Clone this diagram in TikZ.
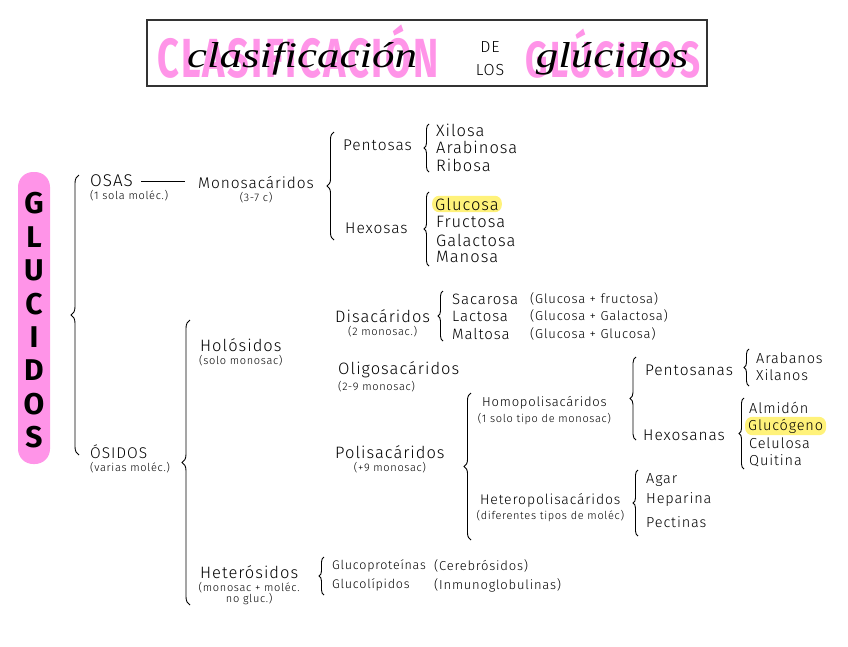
\documentclass[tikz,border=0pt]{standalone}
\usepackage{fontspec}
\setmainfont{Fira Sans}[UprightFont=* Light, BoldFont=* Bold, ItalicFont=* Light Italic, LetterSpace=6]
\newfontfamily\cursivafont{Liberation Serif}
\usetikzlibrary{positioning, decorations.pathreplacing}

\begin{document}
\begin{tikzpicture}[x=1pt, y=-1pt,
    texto/.style={font=\fontsize{15.5}{15.5}\selectfont, anchor=west, inner sep=1pt},
    grande/.style={font=\fontsize{16.5}{16.5}\selectfont},
    elemento/.style={font=\fontsize{14.5}{14.5}\selectfont, anchor=west, inner sep=1pt},
    parentesis/.style={font=\fontsize{13}{13}\selectfont, anchor=west, inner sep=1pt},
    nota/.style={font=\fontsize{11}{11.5}\selectfont, inner sep=1pt, align=center},
    llave/.style={decorate, decoration={brace, amplitude=#1}, line width=0.9pt},
    llave/.default=5pt,
    resaltado/.style={fill=amarillo, rounded corners=7pt, inner xsep=3pt, inner ysep=2pt},
    letra/.style={font=\fontsize{30}{30}\selectfont\bfseries, inner sep=0pt},
    fondo/.style={text=rosa, font=\fontsize{38}{38}\selectfont\bfseries, yscale=1.45, inner sep=0pt, anchor=base},
    cursiva/.style={font=\cursivafont\fontsize{36}{36}\selectfont\itshape, xscale=1.25, inner sep=0pt, anchor=base}]

    \definecolor{rosa}{HTML}{FF94E8}
    \definecolor{amarillo}{HTML}{FFF27A}
    \definecolor{borde}{HTML}{333333}

    \useasboundingbox (0,0) rectangle (848,646);

    % Draw title box
    \draw[line width=1.5pt, draw=borde] (147,20) rectangle (707,86);
    \node[fondo] (fondoClas) at (298,77) {CLASIFICACIÓN};
    \node[fondo, font=\fontsize{35}{35}\selectfont\bfseries] (fondoGluc) at (613,77) {GLÚCIDOS};
    \node[cursiva] (clas) at (302,67) {clasificación};
    \node[cursiva] (gluc) at (612,67) {glúcidos};
    \node[font=\fontsize{16}{16}\selectfont, inner sep=0pt] (de) at (490,47) {DE};
    \node[font=\fontsize{16}{16}\selectfont, inner sep=0pt] (los) at (490,70) {LOS};

    % Draw vertical GLUCIDOS label
    \fill[rosa, rounded corners=15pt] (18,172) rectangle (50,464);
    \foreach \letra [count=\i] in {G,L,U,C,I,D,O,S}
        \node[letra] (letra\i) at (34,170+33.4*\i) {\letra};

    % Main brace
    \coordinate (glucArriba) at (79,175);
    \coordinate (glucAbajo) at (79,455);
    \draw[llave=8pt] (glucAbajo) -- (glucArriba);

    % OSAS
    \node[texto, font=\fontsize{17}{17}\selectfont] (osas) at (89,181) {OSAS};
    \node[nota, below=1pt of osas.south west, anchor=north west] (osasNota) {(1 sola moléc.)};
    \node[texto] (mono) at (197,183) {Monosacáridos};
    \node[nota, below=1pt of mono] (monoNota) {(3-7 c)};
    \draw[line width=0.9pt, shorten <=7pt, shorten >=12pt] (osas.east) -- (osas.east -| mono.west);

    \coordinate (monoArriba) at (334,132);
    \coordinate (monoAbajo) at (334,240);
    \draw[llave=7pt] (monoAbajo) -- (monoArriba);
    \node[texto] (pentosas) at (342,145) {Pentosas};
    \node[texto] (hexosas) at (344,228) {Hexosas};

    \coordinate (pentArriba) at (429,124);
    \coordinate (pentAbajo) at (429,172);
    \draw[llave] (pentAbajo) -- (pentArriba);
    \foreach \nombre/\etiqueta/\y in {xilosa/Xilosa/130, arabinosa/Arabinosa/147, ribosa/Ribosa/165}
        \node[elemento, grande] (\nombre) at (435,\y) {\etiqueta};

    \coordinate (hexArriba) at (429,192);
    \coordinate (hexAbajo) at (429,266);
    \draw[llave] (hexAbajo) -- (hexArriba);
    \node[elemento, grande, resaltado] (glucosa) at (432,204) {Glucosa};
    \foreach \nombre/\etiqueta/\y in {fructosa/Fructosa/222, galactosa/Galactosa/240, manosa/Manosa/257}
        \node[elemento, grande] (\nombre) at (435,\y) {\etiqueta};

    % OSIDOS
    \node[texto] (osidos) at (89,452) {ÓSIDOS};
    \node[nota, below=1pt of osidos.south west, anchor=north west] (osidosNota) {(varias moléc.)};

    \coordinate (osiArriba) at (190,320);
    \coordinate (osiAbajo) at (190,605);
    \draw[llave=8pt] (osiAbajo) -- (osiArriba);
    \node[texto, grande] (holo) at (199,345) {Holósidos};
    \node[nota, below=1pt of holo] (holoNota) {(solo monosac)};
    \node[texto, grande] (hetero) at (199,572) {Heterósidos};
    \node[nota, below=1pt of hetero] (heteroNota) {(monosac + moléc.\\ no gluc.)};

    % Disacaridos
    \node[texto, grande] (disa) at (334,316) {Disacáridos};
    \node[nota, below=1pt of disa] (disaNota) {(2 monosac.)};
    \coordinate (disaArriba) at (443,291);
    \coordinate (disaAbajo) at (443,341);
    \draw[llave] (disaAbajo) -- (disaArriba);
    \foreach \nombre/\etiqueta/\mezcla/\y in {sacarosa/Sacarosa/(Glucosa + fructosa)/299,
            lactosa/Lactosa/(Glucosa + Galactosa)/316, maltosa/Maltosa/(Glucosa + Glucosa)/334}{
        \node[elemento, font=\fontsize{15}{15}\selectfont] (\nombre) at (451,\y) {\etiqueta};
        \node[parentesis] (\nombre Par) at (529,\y) {\mezcla};
    }

    % Oligosacaridos y polisacaridos
    \node[texto, grande] (oligo) at (337,370) {Oligosacáridos};
    \node[nota, below=1pt of oligo.south west, anchor=north west] (oligoNota) {(2-9 monosac)};
    \node[texto, grande] (poli) at (334,452) {Polisacáridos};
    \node[nota, below=1pt of poli] (poliNota) {(+9 monosac)};

    \coordinate (poliArriba) at (471,393);
    \coordinate (poliAbajo) at (471,540);
    \draw[llave=7pt] (poliAbajo) -- (poliArriba);
    \node[texto, font=\fontsize{13}{13}\selectfont] (homo) at (481,403) {Homopolisacáridos};
    \node[nota, below=1pt of homo] (homoNota) {(1 solo tipo de monosac)};
    \node[texto, font=\fontsize{14}{14}\selectfont] (heteroPoli) at (479,500) {Heteropolisacáridos};
    \node[nota, below=1pt of heteroPoli] (heteroPoliNota) {(diferentes tipos de moléc)};

    \coordinate (homoArriba) at (636,357);
    \coordinate (homoAbajo) at (636,440);
    \draw[llave=6pt] (homoAbajo) -- (homoArriba);
    \node[texto] (pentosanas) at (644,370) {Pentosanas};
    \node[texto] (hexosanas) at (642,435) {Hexosanas};

    \coordinate (pentanArriba) at (749,349);
    \coordinate (pentanAbajo) at (749,386);
    \draw[llave] (pentanAbajo) -- (pentanArriba);
    \foreach \nombre/\etiqueta/\y in {arabanos/Arabanos/358, xilanos/Xilanos/375}
        \node[elemento] (\nombre) at (755,\y) {\etiqueta};

    \coordinate (hexanArriba) at (744,398);
    \coordinate (hexanAbajo) at (744,469);
    \draw[llave] (hexanAbajo) -- (hexanArriba);
    \node[elemento, resaltado] (glucogeno) at (745,426) {Glucógeno};
    \foreach \nombre/\etiqueta/\y in {almidon/Almidón/408, celulosa/Celulosa/443, quitina/Quitina/461}
        \node[elemento] (\nombre) at (748,\y) {\etiqueta};

    \coordinate (hetpArriba) at (638,470);
    \coordinate (hetpAbajo) at (638,536);
    \draw[llave] (hetpAbajo) -- (hetpArriba);
    \foreach \nombre/\etiqueta/\y in {agar/Agar/480, heparina/Heparina/500, pectinas/Pectinas/522}
        \node[elemento] (\nombre) at (645,\y) {\etiqueta};

    % Heterosidos
    \coordinate (hetArriba) at (324,557);
    \coordinate (hetAbajo) at (324,595);
    \draw[llave] (hetAbajo) -- (hetArriba);
    \node[elemento, font=\fontsize{12.5}{12.5}\selectfont] (glucoprot) at (331,566) {Glucoproteínas};
    \node[parentesis] (glucoprotPar) at (433,566) {(Cerebrósidos)};
    \node[elemento, font=\fontsize{12.5}{12.5}\selectfont] (glucolip) at (331,585) {Glucolípidos};
    \node[parentesis] (glucolipPar) at (433,585) {(Inmunoglobulinas)};

\end{tikzpicture}
\end{document}
